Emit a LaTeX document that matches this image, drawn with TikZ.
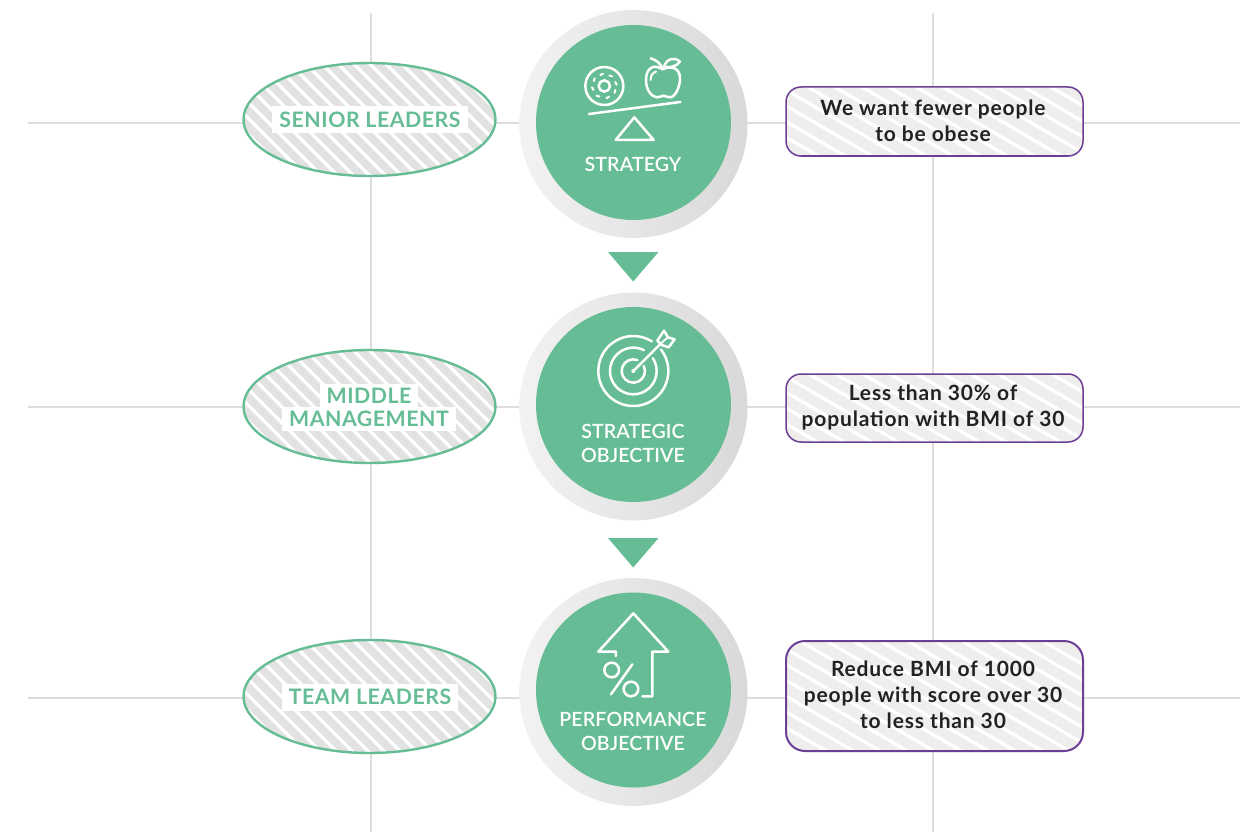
\documentclass[tikz,border=0pt]{standalone}
\usepackage{fontspec}
\setmainfont{Lato}
\newfontfamily\ovalfont{Lato Bold}[LetterSpace=2.5]
\newfontfamily\panelfont{Lato Bold}[LetterSpace=4]
\newfontfamily\med{Lato Semibold}[LetterSpace=0.6]
\usetikzlibrary{shapes.geometric,calc}
\definecolor{grn}{HTML}{66BD95}
\definecolor{pur}{HTML}{6B3F95}
\definecolor{gridc}{HTML}{DDDDDD}
\definecolor{stripeA}{HTML}{E2E2E2}
\definecolor{stripeB}{HTML}{EFEEED}
\definecolor{ink}{HTML}{222222}
\tikzset{
  gridline/.style={draw=gridc,line width=1.4pt},
  ring/.style={circle,inner sep=0pt,minimum size=228pt,left color=black!5,right color=black!15},
  core/.style={circle,inner sep=0pt,minimum size=195pt,fill=grn},
  pointer/.style={fill=grn,draw=none},
  oval/.style={ellipse,inner sep=0pt,minimum width=252pt,minimum height=113pt,draw=grn,line width=2.4pt,fill=white,
    path picture={\begin{scope}[shift={(path picture bounding box.center)}]
      \foreach \i in {-24,...,24}{\draw[stripeA,line width=7.6pt] ({\i*16-130},-130) -- ({\i*16+130},130);}
    \end{scope}}},
  panel/.style={rectangle,inner sep=0pt,minimum width=297pt,draw=pur,line width=1.5pt,fill=white,
    path picture={\begin{scope}[shift={(path picture bounding box.center)}]
      \foreach \i in {-24,...,24}{\draw[stripeB,line width=10pt] ({\i*27-120},-70) -- ({\i*27+120},70);}
    \end{scope}}},
  ovaltext/.style={fill=white,text=grn,font=\fontsize{21.3}{22.5}\selectfont\ovalfont,align=center,inner xsep=7pt,inner ysep=0pt,minimum height=24pt},
  paneltext/.style={text=ink,font=\fontsize{21}{26}\selectfont\panelfont,align=center,inner sep=0pt},
  coretext/.style={text=white,font=\fontsize{19.6}{24}\selectfont\med,align=center,inner sep=0pt},
  icon/.style={draw=white,line width=2.5pt,line cap=round,line join=round},
}
\begin{document}
\begin{tikzpicture}[x=1pt,y=-1pt]
\useasboundingbox (0,0) rectangle (1250,832);
\fill[white] (0,0) rectangle (1250,832);
% grid
\coordinate (h1a) at (28,123); \coordinate (h1b) at (1240,123);
\coordinate (h2a) at (28,407); \coordinate (h2b) at (1240,407);
\coordinate (h3a) at (28,698); \coordinate (h3b) at (1240,698);
\coordinate (v1a) at (371,13); \coordinate (v1b) at (371,832);
\coordinate (v2a) at (933,13); \coordinate (v2b) at (933,832);
\draw[gridline] (h1a) -- (h1b);
\draw[gridline] (h2a) -- (h2b);
\draw[gridline] (h3a) -- (h3b);
\draw[gridline] (v1a) -- (v1b);
\draw[gridline] (v2a) -- (v2b);
% rings
\node[ring] (r1) at (633.5,124) {};
\node[ring] (r2) at (633.5,406.5) {};
\node[ring] (r3) at (633.5,692) {};
\node[core] (c1) at (633.5,122.5) {};
\node[core] (c2) at (633.5,404.5) {};
\node[core] (c3) at (633.5,690) {};
% pointers
\fill[pointer] (608,252) -- (658.5,252) -- (633.2,281.5) -- cycle;
\fill[pointer] (608,538) -- (658.5,538) -- (633.2,567.5) -- cycle;
% ovals
\node[oval] (o1) at (369.5,119.5) {};
\node[oval] (o2) at (369.5,406.5) {};
\node[oval] (o3) at (369.5,696.5) {};
\node[ovaltext,minimum height=27pt] (ot1) at (370,120) {SENIOR LEADERS};
\node[ovaltext] (ot2a) at (369,396) {MIDDLE};
\node[ovaltext] (ot2b) at (369,419) {MANAGEMENT};
\node[ovaltext,minimum height=27pt] (ot3) at (370,697) {TEAM LEADERS};
% panels
\node[panel,minimum height=69pt,rounded corners=15pt] (p1) at (934.5,121.5) {};
\node[panel,minimum height=68pt,rounded corners=15pt] (p2) at (934.5,408) {};
\node[panel,minimum height=110pt,rounded corners=19pt,line width=2pt] (p3) at (934.5,696) {};
\node[paneltext] (pt1) at (933,121) {We want fewer people\\to be obese};
\node[paneltext] (pt2) at (933,407) {Less than 30\% of\\population with BMI of 30};
\node[paneltext] (pt3) at (933,695) {Reduce BMI of 1000\\people with score over 30\\to less than 30};
% core texts
\node[coretext] (ct1) at (633,164) {STRATEGY};
\node[coretext] (ct2) at (633,443) {STRATEGIC\\OBJECTIVE};
\node[coretext] (ct3) at (633,731) {PERFORMANCE\\OBJECTIVE};
% strategy icon
\begin{scope}[x=0.3333pt,y=-0.3333pt,shift={(520pt,0pt)}]
  \draw[icon] (253,258) circle [radius=57];
  \draw[icon] (253,258) circle [radius=17];
  \foreach \a in {20,65,115,160,205,250,295,340}{
    \draw[icon,line width=2pt] ($(253,258)+(\a:35)$) -- ($(253,258)+(\a+14:37)$);}
  \draw[icon] (428,208) .. controls (400,190) and (378,205) .. (378,240) .. controls (378,270) and (395,292) .. (412,292) .. controls (422,292) and (425,287) .. (430,287) .. controls (437,287) and (440,292) .. (450,292) .. controls (465,292) and (480,262) .. (480,235) .. controls (480,205) and (455,195) .. (428,208);
  \draw[icon,line width=2pt] (392,240) .. controls (392,225) and (398,218) .. (408,215);
  \draw[icon] (392,175) .. controls (410,180) and (420,190) .. (428,205);
  \draw[icon] (432,200) .. controls (440,175) and (465,170) .. (480,185) .. controls (470,200) and (445,205) .. (432,200);
  \draw[icon] (207,342) -- (481,306);
  \draw[icon] (343,352) -- (287,420) -- (401,420) -- cycle;
\end{scope}
% target icon
\begin{scope}[x=0.3333pt,y=-0.3333pt,shift={(520pt,-290pt)}]
  \draw[icon] ($(340,243)+(-38:105)$) arc [start angle=-38,end angle=302,radius=105];
  \draw[icon] ($(340,243)+(-33:70)$) arc [start angle=-33,end angle=297,radius=70];
  \draw[icon] ($(340,243)+(-25:35)$) arc [start angle=-25,end angle=290,radius=35];
  \fill[white] (340,243) circle [radius=6];
  \draw[icon] (340,243) -- (425,158);
  \draw[icon] (412,152) -- (432,122) -- (444,142) -- (464,148) -- (446,172) -- (425,165) -- cycle;
  \draw[icon,line width=1.8pt] (425,158) -- (444,142);
\end{scope}
% percent icon
\begin{scope}[x=0.3333pt,y=-0.3333pt,shift={(520pt,-575pt)}]
  \draw[icon] (288,243) -- (288,230) -- (235,230) -- (340,115) -- (445,230) -- (397,230) -- (397,364) -- (367,364);
  \draw[icon] (275,285) circle [radius=22];
  \draw[icon] (333,342) circle [radius=22];
  \draw[icon] (337,268) -- (273,358);
\end{scope}
\end{tikzpicture}
\end{document}
